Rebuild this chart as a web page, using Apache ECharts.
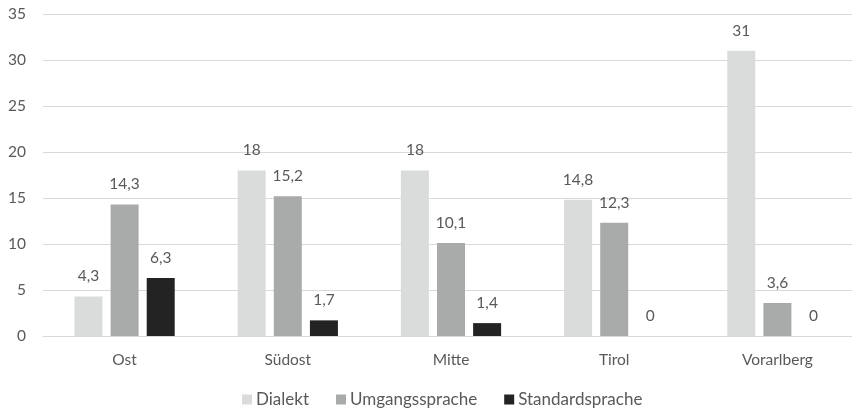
<!DOCTYPE html>
<html>
<head>
<meta charset="utf-8">
<script src="https://cdn.jsdelivr.net/npm/echarts@6/dist/echarts.min.js"></script>
<style>
  html, body { margin: 0; padding: 0; background: #fff; overflow: hidden; }
  #chart { width: 870px; height: 411px; }
</style>
</head>
<body>
<div id="chart"></div>
<script>
// Regions and shares (%) per speech variety
const categories = ['Ost', 'Südost', 'Mitte', 'Tirol', 'Vorarlberg'];
const dialekt = [4.3, 18, 18, 14.8, 31];
const umgangssprache = [14.3, 15.2, 10.1, 12.3, 3.6];
const standardsprache = [6.3, 1.7, 1.4, 0, 0];
const yTicks = { min: 0, max: 35, interval: 5 };

const FONT = 'Lato';
const TEXT = '#595959';

const fmt = v => String(v).replace('.', ',');

function barSeries(name, data, color) {
  return {
    name,
    type: 'bar',
    data,
    barWidth: 28,
    barGap: '29%',
    itemStyle: { color },
    label: {
      show: true,
      position: 'top',
      distance: 12,
      color: TEXT,
      fontFamily: FONT,
      fontSize: 15.5,
      formatter: p => fmt(p.value)
    }
  };
}

const chart = echarts.init(document.getElementById('chart'));
chart.setOption({
  animation: false,
  textStyle: { fontFamily: FONT },
  // plot area runs slightly past the visible right edge
  grid: { left: 43, top: 14, width: 816, bottom: 75, containLabel: false },
  legend: {
    top: 386,
    left: 237,
    itemWidth: 10,
    itemHeight: 10,
    itemGap: 27,
    icon: 'rect',
    textStyle: { color: TEXT, fontFamily: FONT, fontSize: 17, padding: [0, 0, 0, -1] },
    data: ['Dialekt', 'Umgangssprache', 'Standardsprache']
  },
  xAxis: {
    type: 'category',
    data: categories,
    axisLine: { lineStyle: { color: '#d9d9d9', width: 1 } },
    axisTick: { show: false },
    axisLabel: { color: TEXT, fontFamily: FONT, fontSize: 15.5, margin: 16 }
  },
  yAxis: {
    type: 'value',
    min: yTicks.min,
    max: yTicks.max,
    interval: yTicks.interval,
    axisLine: { show: false },
    axisTick: { show: false },
    splitLine: { lineStyle: { color: '#d9d9d9', width: 1 } },
    axisLabel: { color: TEXT, fontFamily: FONT, fontSize: 15.5, margin: 17 }
  },
  series: [
    barSeries('Dialekt', dialekt, '#dadbdb'),
    barSeries('Umgangssprache', umgangssprache, '#a9aaaa'),
    barSeries('Standardsprache', standardsprache, '#232323')
  ]
});
</script>
</body>
</html>
